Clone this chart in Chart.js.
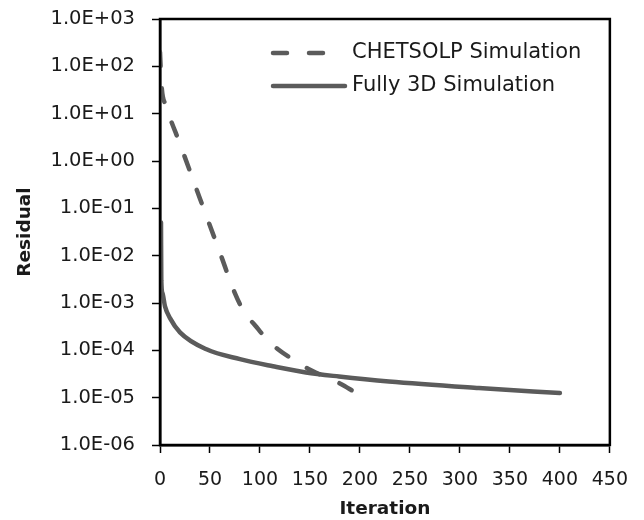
<!DOCTYPE html>
<html>
<head>
<meta charset="utf-8">
<title>Residual vs Iteration</title>
<script src="https://cdn.jsdelivr.net/npm/chart.js@4.4.1/dist/chart.umd.min.js"></script>
<style>
    body { margin: 0; background: #ffffff; }
    #wrap { width: 644px; height: 520px; }
</style>
</head>
<body>
<div id="wrap"><canvas id="residualChart" width="644" height="520"></canvas></div>
<script>
// Datos
const chetLabel = 'CHETSOLP Simulation';
const chetIter = [0, 1.5, 6, 20, 40, 60, 75, 85, 95, 105, 118, 132, 148, 163, 180, 195];
const chetResidual = [200, 40, 15, 2.3, 0.16, 0.0115, 0.0016, 6e-4, 3.4e-4, 1.9e-4, 1.05e-4, 6.6e-5, 4.1e-5, 2.9e-5, 2.0e-5, 1.3e-5];

const fullLabel = 'Fully 3D Simulation';
const fullIter = [1, 1.3, 2.5, 5, 10, 20, 46.5, 80, 113, 146, 179, 229, 319, 400];
const fullResidual = [0.05, 3e-3, 1.6e-3, 8.5e-4, 4.8e-4, 2.4e-4, 1.05e-4, 6.5e-5, 4.6e-5, 3.4e-5, 2.8e-5, 2.2e-5, 1.6e-5, 1.25e-5];

const xTicks = [0, 50, 100, 150, 200, 250, 300, 350, 400, 450];
const yTicks = [1e-6, 1e-5, 1e-4, 1e-3, 1e-2, 1e-1, 1e0, 1e1, 1e2, 1e3];

const lineColor = '#5b5b5b';

// Formato tipo Excel: 1.0E+03
function sciLabel(v) {
    const exp = Math.round(Math.log10(v));
    const sign = exp < 0 ? '-' : '+';
    const digits = String(Math.abs(exp)).padStart(2, '0');
    return '1.0E' + sign + digits;
}

function toPoints(xs, ys) {
    return xs.map((x, i) => ({ x: x, y: ys[i] }));
}

// Marco del área de datos y leyenda interna
const framePlugin = {
    id: 'frame',
    afterDraw(chart) {
        const { ctx, chartArea } = chart;
        ctx.save();
        ctx.strokeStyle = '#000000';
        ctx.lineWidth = 2.5;
        ctx.strokeRect(chartArea.left, chartArea.top,
            chartArea.right - chartArea.left, chartArea.bottom - chartArea.top);

        // leyenda
        const rows = [53, 86];
        chart.data.datasets.forEach((ds, i) => {
            const y = rows[i];
            ctx.beginPath();
            ctx.strokeStyle = ds.borderColor;
            ctx.lineWidth = ds.borderWidth;
            ctx.lineCap = 'round';
            ctx.setLineDash(ds.borderDash || []);
            ctx.moveTo(273, y);
            ctx.lineTo(i === 0 ? 328 : 345, y);
            ctx.stroke();
            ctx.setLineDash([]);
            ctx.fillStyle = '#1a1a1a';
            ctx.font = "21px 'DejaVu Sans'";
            ctx.textBaseline = 'middle';
            ctx.textAlign = 'left';
            ctx.fillText(ds.label, 352, y);
        });
        ctx.restore();
    }
};

Chart.defaults.font.family = "'DejaVu Sans'";
Chart.defaults.color = '#1a1a1a';

const ctx = document.getElementById('residualChart').getContext('2d');
const residualChart = new Chart(ctx, {
    type: 'line',
    data: {
        datasets: [{
            label: chetLabel,
            data: toPoints(chetIter, chetResidual),
            borderColor: lineColor,
            borderWidth: 4.5,
            borderDash: [14, 22],
            borderCapStyle: 'round',
            pointRadius: 0,
            cubicInterpolationMode: 'monotone',
            fill: false
        }, {
            label: fullLabel,
            data: toPoints(fullIter, fullResidual),
            borderColor: lineColor,
            borderWidth: 4.5,
            borderCapStyle: 'round',
            pointRadius: 0,
            cubicInterpolationMode: 'monotone',
            fill: false
        }]
    },
    options: {
        responsive: false,
        animation: false,
        devicePixelRatio: 1,
        layout: {
            padding: { top: 19, right: 32, left: 0, bottom: 0 }
        },
        plugins: {
            legend: { display: false },
            tooltip: { enabled: false }
        },
        scales: {
            x: {
                type: 'linear',
                min: 0,
                max: 450,
                afterFit: function(scale) { scale.height = 75; },
                afterBuildTicks: function(scale) {
                    scale.ticks = xTicks.map(v => ({ value: v }));
                },
                grid: {
                    drawOnChartArea: false,
                    color: '#000000',
                    tickLength: 8,
                    tickWidth: 1.5
                },
                border: { color: '#000000', width: 2.5 },
                ticks: {
                    autoSkip: false,
                    maxRotation: 0,
                    padding: 16,
                    font: { size: 19 }
                },
                title: {
                    display: true,
                    text: 'Iteration',
                    font: { size: 18.5, weight: 'bold' },
                    padding: { top: 0, bottom: 0 }
                }
            },
            y: {
                type: 'logarithmic',
                min: 1e-6,
                max: 1e3,
                afterFit: function(scale) {
                    scale.width = 160;
                    // sin relleno extra por las etiquetas
                    scale.paddingTop = 0;
                    scale.paddingBottom = 0;
                },
                afterBuildTicks: function(scale) {
                    scale.ticks = yTicks.map(v => ({ value: v }));
                },
                grid: {
                    drawOnChartArea: false,
                    color: '#000000',
                    tickLength: 8,
                    tickWidth: 1.5
                },
                border: { color: '#000000', width: 2.5 },
                ticks: {
                    autoSkip: false,
                    padding: 17,
                    font: { size: 19.5 },
                    callback: function(value) { return sciLabel(value); }
                },
                title: {
                    display: true,
                    text: 'Residual',
                    font: { size: 18.5, weight: 'bold' },
                    padding: { top: 14, bottom: 0 }
                }
            }
        }
    },
    plugins: [framePlugin]
});
</script>
</body>
</html>
